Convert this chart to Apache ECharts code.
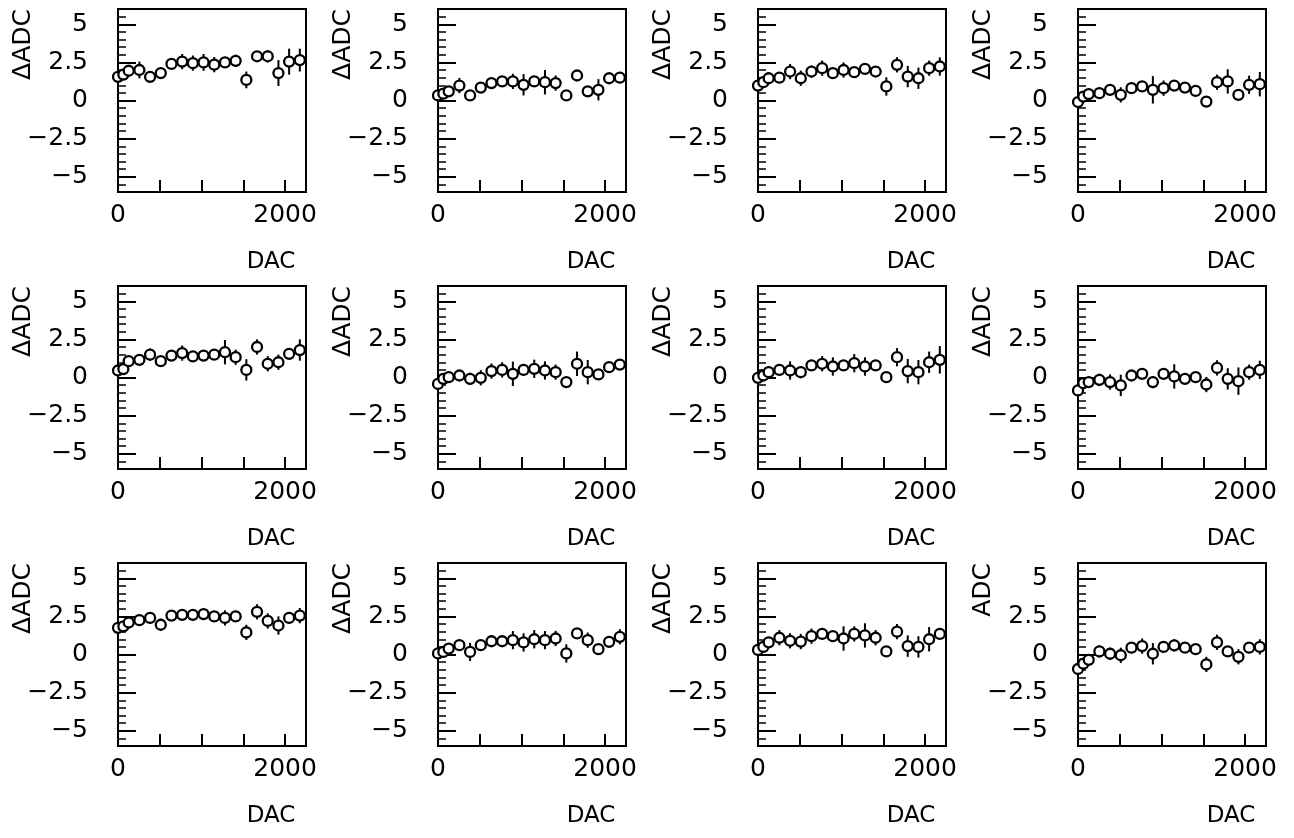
<!DOCTYPE html>
<html>
<head>
<meta charset="utf-8">
<script src="https://cdn.jsdelivr.net/npm/echarts@6/dist/echarts.min.js"></script>
<style>
  html, body { margin: 0; padding: 0; background: #fff; }
  #chart { width: 1294px; height: 838px; }
</style>
</head>
<body>
<div id="chart"></div>
<script>
// DAC settings (same for every panel)
const dac = [0, 64, 128, 256, 384, 512, 640, 768, 896, 1024, 1152, 1280, 1408, 1536, 1664, 1792, 1920, 2048, 2176];

// delta ADC per panel, read row by row
const p1 = [1.55, 1.7, 1.95, 2.0, 1.55, 1.8, 2.4, 2.55, 2.45, 2.5, 2.35, 2.5, 2.6, 1.35, 2.9, 2.9, 1.8, 2.55, 2.65];
const e1 = [0.25, 0.3, 0.35, 0.55, 0.3, 0.3, 0.3, 0.5, 0.5, 0.55, 0.5, 0.3, 0.4, 0.55, 0.3, 0.4, 0.85, 0.85, 0.75];
const p2 = [0.33, 0.45, 0.6, 0.98, 0.33, 0.85, 1.14, 1.25, 1.25, 1.03, 1.25, 1.2, 1.14, 0.33, 1.64, 0.6, 0.7, 1.46, 1.5];
const e2 = [0.3, 0.3, 0.3, 0.5, 0.3, 0.3, 0.3, 0.3, 0.5, 0.7, 0.3, 0.8, 0.5, 0.3, 0.3, 0.3, 0.7, 0.3, 0.3];
const p3 = [0.98, 1.2, 1.46, 1.5, 1.9, 1.46, 1.9, 2.12, 1.79, 2.0, 1.86, 2.07, 1.9, 0.92, 2.34, 1.57, 1.46, 2.12, 2.23];
const e3 = [0.4, 0.3, 0.3, 0.3, 0.5, 0.5, 0.4, 0.5, 0.3, 0.5, 0.3, 0.3, 0.3, 0.6, 0.5, 0.7, 0.7, 0.5, 0.6];
const p4 = [-0.1, 0.26, 0.42, 0.48, 0.7, 0.37, 0.81, 0.92, 0.7, 0.81, 0.98, 0.85, 0.63, -0.07, 1.2, 1.25, 0.37, 1.03, 1.07];
const e4 = [0.4, 0.3, 0.3, 0.3, 0.35, 0.5, 0.3, 0.3, 0.9, 0.5, 0.3, 0.3, 0.3, 0.3, 0.5, 0.8, 0.3, 0.6, 0.8];
const p5 = [0.46, 0.55, 1.07, 1.16, 1.5, 1.07, 1.44, 1.6, 1.38, 1.44, 1.5, 1.66, 1.33, 0.5, 2.0, 0.9, 1.0, 1.55, 1.8];
const e5 = [0.3, 0.3, 0.3, 0.3, 0.4, 0.3, 0.3, 0.5, 0.3, 0.3, 0.3, 0.8, 0.5, 0.7, 0.5, 0.5, 0.5, 0.3, 0.7];
const p6 = [-0.42, -0.09, 0.02, 0.13, -0.09, -0.02, 0.42, 0.5, 0.24, 0.5, 0.57, 0.46, 0.35, -0.3, 0.9, 0.35, 0.2, 0.68, 0.85];
const e6 = [0.3, 0.3, 0.3, 0.3, 0.4, 0.5, 0.5, 0.5, 0.8, 0.3, 0.6, 0.6, 0.5, 0.3, 0.8, 0.8, 0.3, 0.3, 0.3];
const p7 = [-0.02, 0.13, 0.35, 0.5, 0.46, 0.35, 0.79, 0.9, 0.72, 0.79, 0.94, 0.72, 0.79, 0.02, 1.33, 0.42, 0.35, 1.0, 1.16];
const e7 = [0.3, 0.3, 0.3, 0.3, 0.6, 0.4, 0.3, 0.5, 0.6, 0.3, 0.6, 0.6, 0.3, 0.3, 0.6, 0.8, 0.8, 0.7, 0.9];
const p8 = [-0.85, -0.37, -0.3, -0.15, -0.3, -0.52, 0.13, 0.24, -0.3, 0.24, 0.07, -0.09, 0.02, -0.46, 0.63, -0.09, -0.24, 0.35, 0.5];
const e8 = [0.4, 0.3, 0.3, 0.4, 0.5, 0.7, 0.3, 0.3, 0.4, 0.3, 0.8, 0.3, 0.3, 0.5, 0.5, 0.7, 0.9, 0.5, 0.6];
const p9 = [1.75, 1.85, 2.1, 2.25, 2.4, 1.95, 2.55, 2.6, 2.6, 2.65, 2.5, 2.4, 2.5, 1.45, 2.8, 2.2, 1.9, 2.4, 2.55];
const e9 = [0.3, 0.3, 0.4, 0.3, 0.3, 0.4, 0.3, 0.3, 0.3, 0.3, 0.3, 0.5, 0.3, 0.5, 0.5, 0.5, 0.6, 0.3, 0.5];
const p10 = [0.07, 0.17, 0.39, 0.61, 0.17, 0.61, 0.87, 0.87, 0.94, 0.79, 1.0, 0.94, 1.05, 0.07, 1.38, 0.94, 0.35, 0.83, 1.16];
const e10 = [0.3, 0.3, 0.3, 0.3, 0.6, 0.3, 0.3, 0.3, 0.6, 0.6, 0.6, 0.6, 0.5, 0.6, 0.3, 0.5, 0.3, 0.3, 0.5];
const p11 = [0.3, 0.5, 0.8, 1.1, 0.9, 0.85, 1.2, 1.35, 1.2, 1.05, 1.35, 1.25, 1.1, 0.2, 1.5, 0.55, 0.5, 1.0, 1.35];
const e11 = [0.3, 0.3, 0.3, 0.5, 0.5, 0.5, 0.5, 0.3, 0.3, 0.8, 0.5, 0.8, 0.5, 0.3, 0.5, 0.7, 0.7, 0.8, 0.3];
const p12 = [-0.95, -0.6, -0.35, 0.2, 0.05, -0.05, 0.45, 0.55, 0.05, 0.5, 0.6, 0.45, 0.35, -0.65, 0.8, 0.2, -0.15, 0.45, 0.5];
const e12 = [0.3, 0.3, 0.3, 0.4, 0.4, 0.5, 0.3, 0.5, 0.7, 0.3, 0.4, 0.3, 0.3, 0.5, 0.5, 0.3, 0.5, 0.3, 0.5];

const yTitles = ['ΔADC', 'ΔADC', 'ΔADC', 'ΔADC', 'ΔADC', 'ΔADC', 'ΔADC', 'ΔADC', 'ΔADC', 'ΔADC', 'ΔADC', 'ADC'];
const xTitle = 'DAC';
const yLabels = [-5, -2.5, 0, 2.5, 5];
const xLabels = [0, 2000];

const values = [p1, p2, p3, p4, p5, p6, p7, p8, p9, p10, p11, p12];
const errors = [e1, e2, e3, e4, e5, e6, e7, e8, e9, e10, e11, e12];

const FONT = 'DejaVu Sans';
const colLeft = [118, 438, 758, 1078];
const rowTop = [9, 286, 563];
const W = 188, H = 183;

const grid = [], xAxis = [], yAxis = [], series = [], graphic = [];
const fmt = v => String(v).replace('-', '\u2212');

values.forEach((vals, i) => {
  const r = Math.floor(i / 4), c = i % 4;
  const left = colLeft[c], top = rowTop[r];
  grid.push({
    left, top, width: W, height: H, show: true, borderColor: '#000', borderWidth: 2,
    backgroundColor: 'transparent', outerBoundsMode: 'none', containLabel: false
  });

  xAxis.push({
    gridIndex: i, type: 'value', min: 0, max: 2250, interval: 500, position: 'bottom',
    axisLine: { show: true, onZero: false, lineStyle: { color: '#000', width: 2 } },
    axisTick: { inside: true, length: 12, lineStyle: { color: '#000', width: 2 } },
    axisLabel: { customValues: xLabels, formatter: fmt, margin: 11, color: '#000', fontFamily: FONT, fontSize: 25 },
    splitLine: { show: false }
  });
  // minor ticks (every 0.5)
  yAxis.push({
    gridIndex: i, type: 'value', min: -6, max: 6, interval: 0.5, position: 'left',
    axisLine: { show: true, onZero: false, lineStyle: { color: '#000', width: 2 } },
    axisTick: { inside: true, length: 8, lineStyle: { color: '#000', width: 1.5 } },
    axisLabel: { show: false },
    splitLine: { show: false }
  });
  // major ticks + labels
  yAxis.push({
    gridIndex: i, type: 'value', min: -6, max: 6, position: 'left', offset: 0,
    axisLine: { show: false, onZero: false },
    axisTick: { show: true, inside: true, length: 18, customValues: yLabels, lineStyle: { color: '#000', width: 2 } },
    axisLabel: { customValues: yLabels, formatter: fmt, margin: 30, color: '#000', fontFamily: FONT, fontSize: 25 },
    splitLine: { show: false }
  });

  const pts = vals.map((v, k) => [dac[k], v, errors[i][k]]);
  series.push({
    type: 'custom', xAxisIndex: i, yAxisIndex: 2 * i, clip: false, z: 2,
    data: pts,
    renderItem: (params, api) => {
      const x = api.value(0), y = api.value(1), e = api.value(2);
      const a = api.coord([x, y + e]);
      const b = api.coord([x, y - e]);
      return { type: 'line', shape: { x1: a[0], y1: a[1], x2: b[0], y2: b[1] }, style: { stroke: '#000', lineWidth: 2 } };
    }
  });
  series.push({
    type: 'scatter', xAxisIndex: i, yAxisIndex: 2 * i, clip: false, z: 3,
    data: pts.map(p => [p[0], p[1]]),
    symbol: 'circle', symbolSize: 10,
    itemStyle: { color: '#fff', borderColor: '#000', borderWidth: 2.3, opacity: 1 }
  });

  graphic.push({
    type: 'text', x: left + 153, y: top + 253,
    style: { text: xTitle, fill: '#000', font: '23px "' + FONT + '"', align: 'center', verticalAlign: 'middle' }
  });
  graphic.push({
    type: 'text', x: left - 95, y: top, rotation: Math.PI / 2,
    style: { text: yTitles[i], fill: '#000', font: '25px "' + FONT + '"', align: 'right', verticalAlign: 'middle' }
  });
});

const chart = echarts.init(document.getElementById('chart'), null, { renderer: 'canvas' });
chart.setOption({
  animation: false,
  backgroundColor: '#fff',
  grid, xAxis, yAxis, series, graphic
});
</script>
</body>
</html>
